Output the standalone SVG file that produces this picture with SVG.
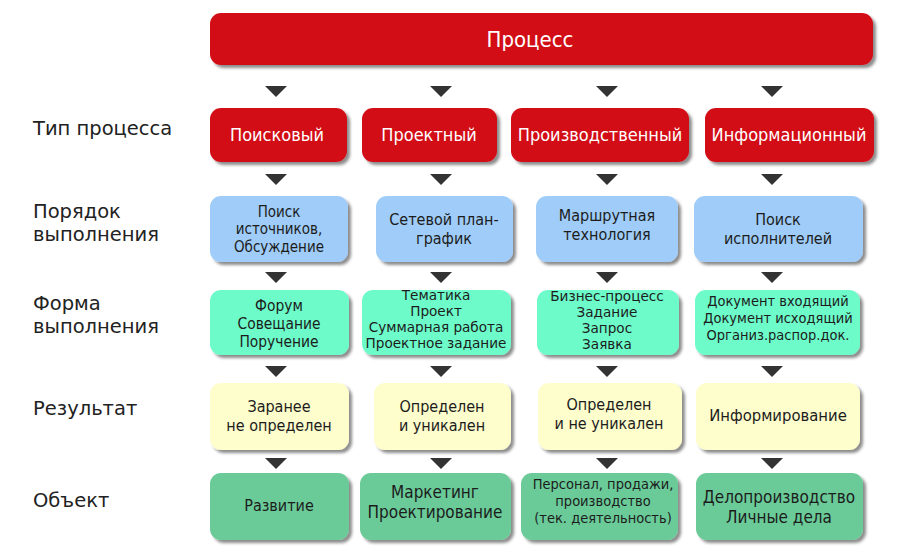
<svg xmlns="http://www.w3.org/2000/svg" xmlns:xlink="http://www.w3.org/1999/xlink" width="907" height="557" viewBox="0 0 907 557">
<defs>
<filter id="sh" x="-10%" y="-10%" width="130%" height="140%">
<feDropShadow dx="3" dy="3" stdDeviation="1.6" flood-color="#000" flood-opacity="0.45"/>
</filter>
<path id="arr" d="M-11,0 L11,0 L0,11 Z" fill="#333"/>
</defs>
<style>
.box{filter:url(#sh)}
.red{fill:#D20C17}
.blue{fill:#9FCCF8}
.aqua{fill:#6DFBCA}
.yel{fill:#FEFDCC}
.dgr{fill:#6BCB99}
text{font-family:"DejaVu Sans Condensed","DejaVu Sans",sans-serif;text-anchor:middle}
.wt{fill:#fff;font-size:18px}
.bt{fill:#1c1c1c;font-size:16px}
.gt{fill:#1c1c1c;font-size:14.5px}
.rt{fill:#1c1c1c;font-family:"DejaVu Sans",sans-serif;font-size:13.6px}
.lbl{font-family:"DejaVu Sans",sans-serif;font-size:19.5px;fill:#222;text-anchor:start}
</style>
<rect width="907" height="557" fill="#fff"/>

<g id="labels">
<text class="lbl" x="33" y="135">Тип процесса</text>
<text class="lbl" x="33" y="218">Порядок<tspan x="33" y="241">выполнения</tspan></text>
<text class="lbl" x="33" y="310">Форма<tspan x="33" y="333">выполнения</tspan></text>
<text class="lbl" x="33" y="415">Результат</text>
<text class="lbl" x="33" y="507">Объект</text>
</g>

<g id="connectors">
<use xlink:href="#arr" x="276" y="86"/><use xlink:href="#arr" x="441" y="86"/><use xlink:href="#arr" x="607" y="86"/><use xlink:href="#arr" x="772" y="86"/>
<use xlink:href="#arr" x="276" y="174"/><use xlink:href="#arr" x="441" y="174"/><use xlink:href="#arr" x="607" y="174"/><use xlink:href="#arr" x="772" y="174"/>
<use xlink:href="#arr" x="276" y="272"/><use xlink:href="#arr" x="441" y="272"/><use xlink:href="#arr" x="607" y="272"/><use xlink:href="#arr" x="772" y="272"/>
<use xlink:href="#arr" x="276" y="366"/><use xlink:href="#arr" x="441" y="366"/><use xlink:href="#arr" x="607" y="366"/><use xlink:href="#arr" x="772" y="366"/>
<use xlink:href="#arr" x="276" y="458"/><use xlink:href="#arr" x="441" y="458"/><use xlink:href="#arr" x="607" y="458"/><use xlink:href="#arr" x="772" y="458"/>
</g>

<g id="process">
<rect class="box red" x="210" y="13" width="663" height="52" rx="11"/>
<text class="wt" x="530" y="47" style="font-size:22px">Процесс</text>
</g>

<g id="type-search"><rect class="box red" x="210" y="108" width="137" height="54" rx="11"/><text class="wt" x="277" y="141">Поисковый</text></g>
<g id="type-project"><rect class="box red" x="362" y="108" width="135" height="54" rx="11"/><text class="wt" x="429" y="141">Проектный</text></g>
<g id="type-production"><rect class="box red" x="511" y="108" width="178" height="54" rx="11"/><text class="wt" x="600" y="141">Производственный</text></g>
<g id="type-info"><rect class="box red" x="705" y="108" width="169" height="54" rx="11"/><text class="wt" x="789" y="141">Информационный</text></g>

<g id="order-1"><rect class="box blue" x="210" y="196" width="138" height="66" rx="11"/><text class="bt" x="279" y="216.5" style="font-size:15px">Поиск<tspan x="279" y="234">источников,</tspan><tspan x="279" y="251.5">Обсуждение</tspan></text></g>
<g id="order-2"><rect class="box blue" x="376" y="196" width="137" height="66" rx="11"/><text class="bt" x="444" y="225">Сетевой план-<tspan x="444" y="243.7">график</tspan></text></g>
<g id="order-3"><rect class="box blue" x="536" y="196" width="142" height="66" rx="11"/><text class="bt" x="607" y="221">Маршрутная<tspan x="607" y="239.7">технология</tspan></text></g>
<g id="order-4"><rect class="box blue" x="694" y="196" width="169" height="66" rx="11"/><text class="bt" x="778" y="225">Поиск<tspan x="778" y="243.7">исполнителей</tspan></text></g>

<g id="form-1"><rect class="box aqua" x="210" y="290" width="139" height="65" rx="11"/><text class="bt" x="279" y="311" style="font-size:15.4px">Форум<tspan x="279" y="329">Совещание</tspan><tspan x="279" y="347">Поручение</tspan></text></g>
<g id="form-2"><rect class="box aqua" x="362" y="290" width="149" height="65" rx="11"/><text class="rt" x="436" y="300">Тематика<tspan x="436" y="316">Проект</tspan><tspan x="436" y="332">Суммарная работа</tspan><tspan x="436" y="348">Проектное задание</tspan></text></g>
<g id="form-3"><rect class="box aqua" x="537" y="290" width="142" height="65" rx="11"/><text class="rt" x="607" y="301">Бизнес-процесс<tspan x="607" y="317">Задание</tspan><tspan x="607" y="333">Запрос</tspan><tspan x="607" y="349">Заявка</tspan></text></g>
<g id="form-4"><rect class="box aqua" x="695" y="290" width="165" height="65" rx="11"/><text class="gt" x="778" y="306">Документ входящий<tspan x="778" y="323">Документ исходящий</tspan><tspan x="778" y="340">Организ.распор.док.</tspan></text></g>

<g id="result-1"><rect class="box yel" x="210" y="383" width="139" height="67" rx="11"/><text class="bt" x="279" y="412">Заранее<tspan x="279" y="430.7">не определен</tspan></text></g>
<g id="result-2"><rect class="box yel" x="374" y="383" width="137" height="67" rx="11"/><text class="bt" x="442" y="412">Определен<tspan x="442" y="430.7">и уникален</tspan></text></g>
<g id="result-3"><rect class="box yel" x="538" y="383" width="144" height="67" rx="11"/><text class="bt" x="609" y="410">Определен<tspan x="609" y="428.7">и не уникален</tspan></text></g>
<g id="result-4"><rect class="box yel" x="696" y="383" width="164" height="67" rx="11"/><text class="bt" x="778" y="421" style="font-size:16.5px">Информирование</text></g>

<g id="object-1"><rect class="box dgr" x="210" y="473" width="139" height="67" rx="11"/><text class="bt" x="279" y="511">Развитие</text></g>
<g id="object-2"><rect class="box dgr" x="360" y="473" width="151" height="67" rx="11"/><text class="bt" x="435" y="497.5" style="font-size:17px">Маркетинг<tspan x="435" y="517.5">Проектирование</tspan></text></g>
<g id="object-3"><rect class="box dgr" x="521" y="473" width="157" height="67" rx="11"/><text class="gt" x="603" y="488.5">Персонал, продажи,<tspan x="603" y="505.7">производство</tspan><tspan x="603" y="522.9">(тек. деятельность)</tspan></text></g>
<g id="object-4"><rect class="box dgr" x="696" y="473" width="167" height="67" rx="11"/><text class="bt" x="779" y="502.5" style="font-size:17px">Делопроизводство<tspan x="779" y="522.5">Личные дела</tspan></text></g>
</svg>
